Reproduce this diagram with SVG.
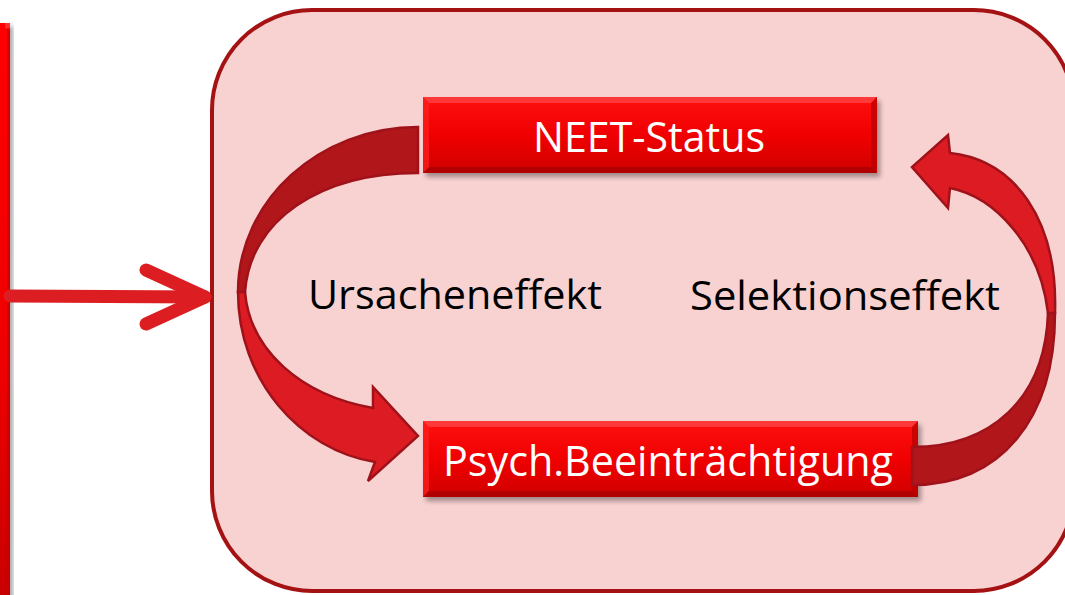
<svg xmlns="http://www.w3.org/2000/svg" width="1065" height="595" viewBox="0 0 1065 595">
<defs>
  <linearGradient id="boxFill" x1="0" y1="0" x2="0" y2="1">
    <stop offset="0" stop-color="#FF1010"/>
    <stop offset="0.5" stop-color="#F00000"/>
    <stop offset="1" stop-color="#D00000"/>
  </linearGradient>
  <linearGradient id="barFill" x1="0" y1="0" x2="0" y2="1">
    <stop offset="0" stop-color="#FF0000"/>
    <stop offset="0.6" stop-color="#EE0000"/>
    <stop offset="1" stop-color="#C80000"/>
  </linearGradient>
  <filter id="shadow" x="-10%" y="-30%" width="120%" height="160%">
    <feGaussianBlur stdDeviation="2.5"/>
  </filter>
  <style>
    .frame { fill: #F8D1D1; stroke: #A41214; stroke-width: 4; }
    .shadow { fill: #000; opacity: 0.35; filter: url(#shadow); }
    .box { fill: url(#boxFill); }
    .bevTop { fill: #FF4444; opacity: 0.8; }
    .bevLeft { fill: #FF2020; opacity: 0.7; }
    .bevBot { fill: #A80000; opacity: 0.8; }
    .bevRight { fill: #B80000; opacity: 0.7; }
    .boxText { font-family: "Open Sans", "Noto Sans", sans-serif; font-size: 42px; fill: #FFFFFF; text-anchor: middle; }
    .label { font-family: "Open Sans", "Noto Sans", sans-serif; font-size: 40px; fill: #000000; }
    .dark { fill: #B1161B; stroke: #A0121A; stroke-width: 2.5; stroke-linejoin: miter; }
    .light { fill: #DC1C22; stroke: #A0121A; stroke-width: 2.5; stroke-linejoin: miter; }
    .conn { fill: none; stroke: #DC1E22; stroke-width: 13; stroke-linecap: round; stroke-linejoin: round; }
  </style>
</defs>

<rect width="1065" height="595" fill="#FFFFFF"/>

<g id="left-bar">
  <rect x="3" y="26" width="10" height="580" class="shadow"/>
  <rect x="-2" y="23" width="12" height="580" fill="url(#barFill)"/>
  <polygon points="5,23 10,23 10,30 5,28" fill="#FF5050" opacity="0.6"/>
  <rect x="7" y="28" width="3" height="575" fill="#C00000" opacity="0.6"/>
</g>

<g id="frame">
  <rect x="212" y="10" width="862" height="581" rx="100" ry="100" class="frame"/>
</g>

<g id="connectors">
  <line x1="10" y1="296" x2="205" y2="297" class="conn"/>
  <polyline points="146,270 205,297 146,324" class="conn"/>
</g>

<g id="neet-status">
  <rect x="426" y="101" width="454" height="76" class="shadow"/>
  <rect x="423" y="97" width="454" height="76" class="box"/>
  <polygon points="423,97 877,97 871,103 429,103" class="bevTop"/>
  <polygon points="423,97 429,103 429,167 423,173" class="bevLeft"/>
  <polygon points="423,173 429,167 871,167 877,173" class="bevBot"/>
  <polygon points="877,97 877,173 871,167 871,103" class="bevRight"/>
  <text x="649" y="152" class="boxText" textLength="232" lengthAdjust="spacingAndGlyphs">NEET-Status</text>
</g>

<g id="psych-beeintraechtigung">
  <rect x="426" y="425" width="495" height="76" class="shadow"/>
  <rect x="423" y="421" width="495" height="76" class="box"/>
  <polygon points="423,421 918,421 912,427 429,427" class="bevTop"/>
  <polygon points="423,421 429,427 429,491 423,497" class="bevLeft"/>
  <polygon points="423,497 429,491 912,491 918,497" class="bevBot"/>
  <polygon points="918,421 918,497 912,491 912,427" class="bevRight"/>
  <text x="668" y="476" class="boxText" textLength="450" lengthAdjust="spacingAndGlyphs">Psych.Beeinträchtigung</text>
</g>

<g id="ursacheneffekt-arrow">
  <path class="dark" d="M418,127 C320,127 238,200 238,292 L245,292 C250,220 320,173 418,173 Z"/>
  <path class="light" d="M238,292 C238,380 300,450 375,462 L368,481 L418,436 L373,387 L373,408 C300,395 250,350 245,292 Z"/>
</g>

<g id="selektionseffekt-arrow">
  <path class="dark" d="M912,485 C1000,485 1055,420 1055,313 L1048,313 C1045,400 990,447 912,447 Z"/>
  <path class="light" d="M1055,313 C1058,220 1015,160 950,153 L948,135 L912,167 L948,208 L950,188 C995,197 1040,245 1048,313 Z"/>
</g>

<g id="labels">
  <text x="308" y="309" class="label" textLength="294" lengthAdjust="spacingAndGlyphs">Ursacheneffekt</text>
  <text x="690" y="310" class="label" textLength="310" lengthAdjust="spacingAndGlyphs">Selektionseffekt</text>
</g>
</svg>
